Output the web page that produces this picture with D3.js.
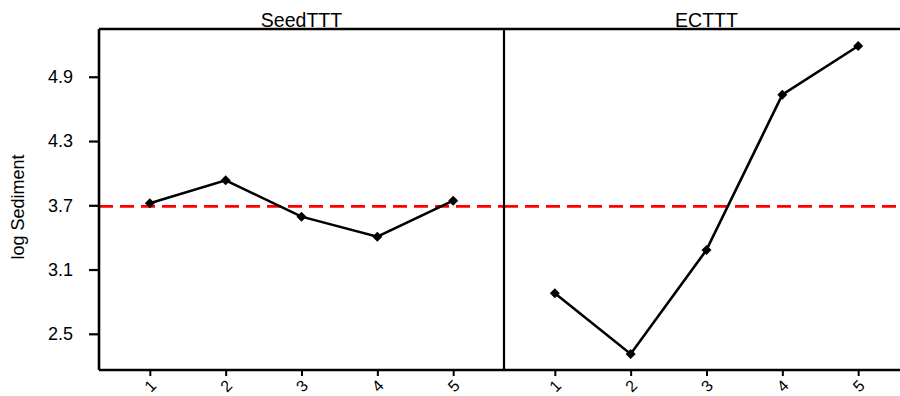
<!DOCTYPE html>
<html><head><meta charset="utf-8">
<script src="https://cdn.jsdelivr.net/npm/d3@7"></script>
<style>body{margin:0;background:#fff}svg{display:block}text{font-family:"Liberation Sans",Arial,sans-serif;fill:#000}</style>
</head><body>
<svg id="c" width="900" height="396"></svg>
<script>
const panels = ["SeedTTT", "ECTTT"];
const levels = [1, 2, 3, 4, 5];
const seedValues = [3.72, 3.933, 3.594, 3.407, 3.743];
const ecValues = [2.878, 2.312, 3.283, 4.733, 5.187];
const yTicks = [2.5, 3.1, 3.7, 4.3, 4.9];
const refValue = 3.69;
const yLabel = "log Sediment";
const series = [seedValues, ecValues];

const svg = d3.select("#c");
const plotTop = 29, plotBottom = 370, plotLeft = 99, pw = 405;
const y = d3.scaleLinear().domain([2.162, 5.346]).range([plotBottom, plotTop]);

panels.forEach((name, i) => {
  const x0 = plotLeft + i * pw;
  const x = d3.scaleLinear().domain([0.33, 5.67]).range([x0, x0 + pw]);
  const g = svg.append("g");
  g.append("line").attr("x1", x0).attr("x2", x0 + pw).attr("y1", y(refValue)).attr("y2", y(refValue))
    .attr("stroke", "#ff0000").attr("stroke-width", 2.6).attr("stroke-dasharray", "14,7");
  const pts = levels.map((l, k) => [x(l), y(series[i][k])]);
  g.append("path").attr("d", d3.line()(pts)).attr("fill", "none").attr("stroke", "#000").attr("stroke-width", 2.6);
  g.selectAll("path.m").data(pts).join("path").attr("class", "m")
    .attr("d", d3.symbol(d3.symbolSquare, 50)())
    .attr("transform", d => `translate(${d[0]},${d[1]}) rotate(45)`).attr("fill", "#000");
  const xa = g.append("g").attr("transform", `translate(0,${plotBottom})`)
    .call(d3.axisBottom(x).tickValues(levels).tickSize(6).tickFormat(d3.format("d")));
  xa.select(".domain").remove();
  xa.selectAll(".tick line").attr("stroke-width", 2);
  xa.selectAll(".tick text").attr("y", 0).attr("dy", 0)
    .attr("transform", "translate(0,16) rotate(-45)")
    .attr("text-anchor", "middle").attr("dominant-baseline", "central")
    .attr("font-size", 16).style("font-size", "16px").style("font-family", '"Liberation Sans",Arial,sans-serif');
  g.append("text").attr("x", x0 + pw / 2).attr("y", 27).attr("text-anchor", "middle")
    .style("font-size", "19.5px").text(name);
});

const ya = svg.append("g").attr("transform", `translate(${plotLeft},0)`)
  .call(d3.axisLeft(y).tickValues(yTicks).tickSize(10).tickPadding(5).tickFormat(d3.format(".1f")));
ya.select(".domain").remove();
ya.selectAll(".tick line").attr("stroke-width", 2.2);
ya.selectAll(".tick text").attr("font-size", 18).style("font-size", "18px").style("font-family", '"Liberation Sans",Arial,sans-serif').attr("x", -26);

svg.append("line").attr("x1", plotLeft).attr("x2", 900).attr("y1", plotTop).attr("y2", plotTop).attr("stroke", "#000").attr("stroke-width", 2.6);
svg.append("line").attr("x1", plotLeft).attr("x2", 900).attr("y1", plotBottom).attr("y2", plotBottom).attr("stroke", "#000").attr("stroke-width", 2.6);
svg.append("line").attr("x1", plotLeft).attr("x2", plotLeft).attr("y1", plotTop).attr("y2", plotBottom).attr("stroke", "#000").attr("stroke-width", 2.6);
svg.append("line").attr("x1", plotLeft + pw).attr("x2", plotLeft + pw).attr("y1", plotTop).attr("y2", plotBottom).attr("stroke", "#000").attr("stroke-width", 2.2);

svg.append("text").attr("transform", `translate(24,207) rotate(-90)`).attr("text-anchor", "middle")
  .style("font-size", "18px").text(yLabel);
</script>
</body></html>
